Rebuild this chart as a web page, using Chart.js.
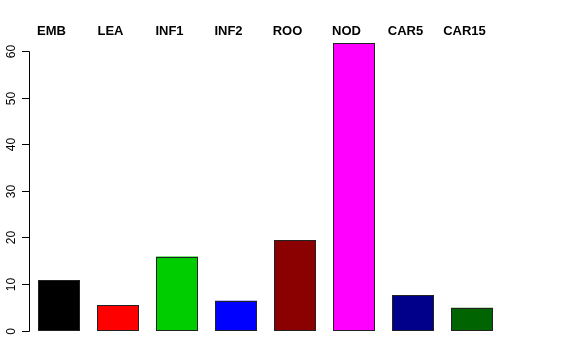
<!DOCTYPE html>
<html><head><meta charset="utf-8">
<script src="https://cdn.jsdelivr.net/npm/chart.js@4"></script>
<style>html,body{margin:0;padding:0;background:#fff}#w{width:576px;height:360px}</style>
</head><body><div id="w"><canvas id="c" width="576" height="360"></canvas></div>
<script>
const categories = ["EMB","LEA","INF1","INF2","ROO","NOD","CAR5","CAR15"];
const values = [10.8, 5.4, 15.9, 6.4, 19.4, 61.7, 7.6, 4.9];
const barColors = ["#000000","#FF0000","#00CD00","#0000FF","#8B0000","#FF00FF","#00008B","#006400"];
const yTicks = [0,10,20,30,40,50,60];

const axisPlugin = {
  id: 'rAxis',
  afterDatasetsDraw(chart) {
    const ctx = chart.ctx;
    ctx.save();
    ctx.strokeStyle = '#222'; ctx.lineWidth = 1;
    chart.getDatasetMeta(0).data.forEach(b => {
      const l = Math.round(b.x - b.width/2) + 0.5, r = Math.round(b.x + b.width/2) - 0.5;
      const t = Math.round(b.y) + 0.5, bt = Math.round(b.base) - 0.5;
      ctx.strokeRect(l, t, r - l, bt - t);
    });
    ctx.restore();
  },
  afterDraw(chart) {
    const ctx = chart.ctx, y = chart.scales.y, x = chart.scales.x;
    ctx.save();
    ctx.strokeStyle = '#000'; ctx.lineWidth = 1;
    const ax = 29.5;
    ctx.beginPath();
    ctx.moveTo(ax, Math.round(y.getPixelForValue(yTicks[0])) + 0.5);
    ctx.lineTo(ax, Math.round(y.getPixelForValue(yTicks[yTicks.length-1])) + 0.5);
    ctx.stroke();
    ctx.font = '12px "Liberation Sans", Arial, sans-serif';
    ctx.fillStyle = '#000';
    ctx.textAlign = 'center'; ctx.textBaseline = 'middle';
    yTicks.forEach(t => {
      const py = Math.round(y.getPixelForValue(t)) + 0.5;
      ctx.beginPath(); ctx.moveTo(22, py); ctx.lineTo(ax, py); ctx.stroke();
      ctx.save(); ctx.translate(12, py); ctx.rotate(-Math.PI/2);
      ctx.fillText(String(t), 0, 0); ctx.restore();
    });
    ctx.font = 'bold 13px "Liberation Sans", Arial, sans-serif';
    ctx.textBaseline = 'alphabetic';
    categories.forEach((c, i) => {
      const px = x.getPixelForValue(i) - 7.5;
      ctx.fillText(c, px, 35);
    });
    ctx.restore();
  }
};

new Chart(document.getElementById('c'), {
  type: 'bar',
  data: { labels: categories, datasets: [{ data: values, backgroundColor: barColors,
    borderWidth: 0,
    barPercentage: 42/59, categoryPercentage: 1 }] },
  options: {
    responsive: false, animation: false,
    layout: { padding: { left: 29.5, right: 74.5, top: 32, bottom: 18 } },
    plugins: { legend: { display: false }, tooltip: { enabled: false } },
    scales: {
      x: { display: false, offset: true },
      y: { display: false, min: -2.47, max: 64.17 }
    }
  },
  plugins: [axisPlugin]
});
</script></body></html>
